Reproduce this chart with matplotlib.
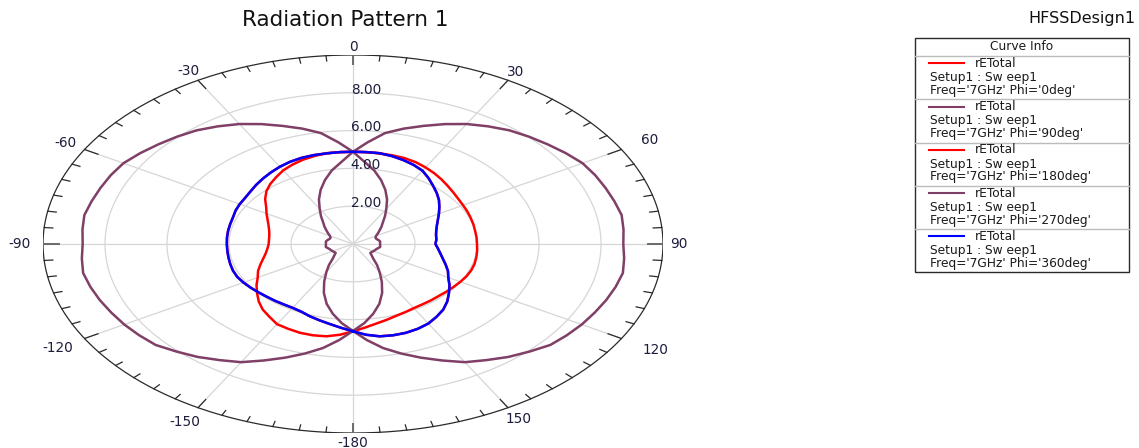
import numpy as np
import matplotlib
matplotlib.use("Agg")
import matplotlib.pyplot as plt
from matplotlib.patches import Rectangle

# ---- data -------------------------------------------------------------
theta_deg = np.arange(-180, 181, 5)

# rETotal, Freq = 7 GHz, theta sweep -180..180 deg
phi0 = [4.62, 4.45, 4.30, 4.18, 4.07, 3.95, 3.90, 3.90, 3.92, 3.94, 3.98, 4.03, 4.08,
        4.12, 4.12, 4.10, 4.08, 4.07, 4.07, 4.08, 4.09, 4.10, 4.12, 4.18, 4.22, 4.25,
        4.32, 4.42, 4.52, 4.62, 4.72, 4.80, 4.85, 4.87, 4.87, 4.88, 4.88, 4.88, 4.88,
        4.82, 4.73, 4.62, 4.48, 4.25, 4.02, 3.82, 3.62, 3.40, 3.20, 3.02, 2.88, 2.78,
        2.72, 2.70, 2.66, 2.75, 2.86, 3.00, 3.18, 3.38, 3.55, 3.80, 4.04, 4.30, 4.53,
        4.70, 4.86, 4.95, 5.00, 5.00, 4.96, 4.82, 4.62]

phi90 = [4.60, 4.20, 3.75, 3.28, 2.75, 2.20, 1.72, 1.35, 1.02, 0.85, 0.73, 0.74, 0.76,
         0.78, 0.80, 0.84, 0.89, 0.88, 0.87, 0.88, 0.88, 0.84, 0.80, 0.80, 0.86, 0.98,
         1.12, 1.30, 1.50, 1.80, 2.15, 2.60, 3.05, 3.50, 3.95, 4.35, 4.88, 5.40, 5.96,
         6.32, 6.65, 7.00, 7.33, 7.60, 7.85, 8.03, 8.20, 8.38, 8.55, 8.62, 8.67, 8.73,
         8.80, 8.76, 8.72, 8.78, 8.84, 8.77, 8.69, 8.60, 8.52, 8.42, 8.31, 8.05, 7.80,
         7.50, 7.22, 6.80, 6.40, 6.00, 5.59, 5.10, 4.60]

phi180 = [4.62, 4.82, 4.96, 5.00, 5.00, 4.95, 4.90, 4.70, 4.53, 4.30, 4.04, 3.80, 3.55,
          3.38, 3.18, 3.00, 2.86, 2.77, 2.72, 2.72, 2.74, 2.80, 2.90, 3.04, 3.22, 3.42,
          3.70, 3.95, 4.15, 4.32, 4.50, 4.63, 4.74, 4.82, 4.88, 4.88, 4.88, 4.88, 4.87,
          4.86, 4.84, 4.78, 4.68, 4.57, 4.45, 4.33, 4.23, 4.15, 4.10, 4.07, 4.04, 4.02,
          4.00, 4.00, 4.00, 4.02, 4.04, 4.06, 4.06, 4.04, 4.00, 3.96, 3.93, 3.90, 3.90,
          3.90, 3.92, 3.98, 4.05, 4.16, 4.28, 4.44, 4.62]

phi270 = [4.60, 5.10, 5.59, 6.00, 6.40, 6.80, 7.22, 7.50, 7.80, 8.05, 8.31, 8.42, 8.52,
          8.60, 8.69, 8.77, 8.84, 8.78, 8.72, 8.76, 8.80, 8.73, 8.67, 8.62, 8.55, 8.38,
          8.20, 8.03, 7.85, 7.60, 7.33, 7.00, 6.65, 6.32, 5.96, 5.40, 4.88, 4.35, 3.95,
          3.50, 3.05, 2.60, 2.15, 1.80, 1.50, 1.30, 1.12, 0.98, 0.86, 0.80, 0.80, 0.84,
          0.88, 0.88, 0.87, 0.88, 0.89, 0.84, 0.80, 0.78, 0.76, 0.74, 0.73, 0.85, 1.02,
          1.35, 1.72, 2.20, 2.75, 3.28, 3.75, 4.20, 4.60]

phi360 = [4.62, 4.45, 4.30, 4.18, 4.07, 3.95, 3.90, 3.90, 3.92, 3.94, 3.98, 4.03, 4.08,
          4.12, 4.12, 4.10, 4.08, 4.07, 4.07, 4.08, 4.09, 4.10, 4.12, 4.18, 4.22, 4.25,
          4.32, 4.42, 4.52, 4.62, 4.72, 4.80, 4.85, 4.87, 4.87, 4.88, 4.88, 4.88, 4.88,
          4.82, 4.73, 4.62, 4.48, 4.25, 4.02, 3.82, 3.62, 3.40, 3.20, 3.02, 2.88, 2.78,
          2.72, 2.70, 2.66, 2.75, 2.86, 3.00, 3.18, 3.38, 3.55, 3.80, 4.04, 4.30, 4.53,
          4.70, 4.86, 4.95, 5.00, 5.00, 4.96, 4.82, 4.62]

series = [("0deg", phi0, "#ff0000"),
          ("90deg", phi90, "#7f3f66"),
          ("180deg", phi180, "#ff0000"),
          ("270deg", phi270, "#7f3f66"),
          ("360deg", phi360, "#0000ff")]

ring_values = [2, 4, 6, 8]
ring_labels = ["2.00", "4.00", "6.00", "8.00"]
r_max = 10
angle_ticks = [0, 30, 60, 90, 120, 150, -180, -150, -120, -90, -60, -30]
angle_tick_labels = ["0", "30", "60", "90", "120", "150", "-180", "-150", "-120",
                     "-90", "-60", "-30"]

title = "Radiation Pattern 1"
design_name = "HFSSDesign1"
quantity = "rETotal"
setup_name = "Setup1 : Sw eep1"
freq_text = "7GHz"

# ---- figure -------------------------------------------------------------
W, H = 1139, 448
fig = plt.figure(figsize=(W / 100, H / 100), dpi=100)
fig.patch.set_facecolor("white")
FONT = "DejaVu Sans"
TXT = "#1c1c3c"

# polar plot drawn in a stretched cartesian frame (x = r sin t, y = r cos t)
ax = fig.add_axes([43 / W, 15 / H, 620 / W, 378 / H])
ax.set_xlim(-r_max, r_max)
ax.set_ylim(-r_max, r_max)
ax.axis("off")

t = np.linspace(0, 2 * np.pi, 721)
grid_c = "#d6d6d6"
for rv in ring_values:
    ax.plot(rv * np.sin(t), rv * np.cos(t), color=grid_c, lw=0.9, zorder=1)
for a in range(0, 360, 30):
    ar = np.deg2rad(a)
    ax.plot([0, r_max * np.sin(ar)], [0, r_max * np.cos(ar)], color=grid_c, lw=0.9, zorder=1)

# outer rim with tick marks every 5 degrees
ax.plot(r_max * np.sin(t), r_max * np.cos(t), color="#2a2a2a", lw=0.9, zorder=2)
for a in range(-180, 180, 5):
    ar = np.deg2rad(a)
    if a % 90 == 0:
        L, c, lw = 0.5, "#6a6a6a", 1.4
    elif a % 30 == 0:
        L, c, lw = 0.5, "#2a2a2a", 0.9
    else:
        L, c, lw = 0.28, "#2a2a2a", 0.9
    ax.plot([(r_max - L) * np.sin(ar), r_max * np.sin(ar)],
            [(r_max - L) * np.cos(ar), r_max * np.cos(ar)], color=c, lw=lw, zorder=2)

# angle labels
label_r = {0: 10.42, 30: 10.5, 60: 11.05, 90: 10.5, 120: 11.25, 150: 10.7,
           -180: 10.53, -150: 10.85, -120: 11.0, -90: 10.75, -60: 10.7, -30: 10.6}
for a, lab in zip(angle_ticks, angle_tick_labels):
    ar = np.deg2rad(a)
    rr = label_r[a]
    ax.text(rr * np.sin(ar), rr * np.cos(ar), lab, ha="center", va="center",
            fontsize=9.8, family=FONT, color=TXT, clip_on=False)

# radial labels
for rv, lab in zip(ring_values, ring_labels):
    ax.text(-0.07, rv + 0.17, lab, ha="left", va="center", fontsize=9.8,
            family=FONT, color=TXT, zorder=4)

# curves
th = np.deg2rad(theta_deg)
for name, vals, col in series:
    r = np.asarray(vals)
    ax.plot(r * np.sin(th), r * np.cos(th), color=col, lw=1.8, zorder=3,
            solid_joinstyle="round")

# ---- overlay for title and curve info box ---------------------------------
ov = fig.add_axes([0, 0, 1, 1])
ov.set_xlim(0, W)
ov.set_ylim(H, 0)
ov.axis("off")

ov.text(345, 20, title, ha="center", va="center", fontsize=15.5, family=FONT,
        color="#111111")
ov.text(1135, 18, design_name, ha="right", va="center", fontsize=11.5, family=FONT,
        color="#111111")

bx0, bx1, by0, by1 = 915, 1129, 38, 272
ov.add_patch(Rectangle((bx0, by0), bx1 - bx0, by1 - by0, facecolor="white",
                       edgecolor="#2a2a2a", lw=1.0, zorder=1))
ov.plot([bx0, bx1], [56, 56], color="#bcbcbc", lw=1.0, zorder=2)
ov.text((bx0 + bx1) / 2, 47, "Curve Info", ha="center", va="center", fontsize=8.8,
        family=FONT, color="#1a1a1a", zorder=3)

entry_h = 43.3
for i, (name, vals, col) in enumerate(series):
    top = 56 + i * entry_h
    if i > 0:
        ov.plot([bx0, bx1], [top, top], color="#bcbcbc", lw=1.0, zorder=2)
    ov.plot([929, 964], [top + 7.3, top + 7.3], color=col, lw=1.5, zorder=3)
    ov.text(975, top + 7.3, quantity, ha="left", va="center", fontsize=8.8,
            family=FONT, color="#1a1a1a", zorder=3)
    ov.text(930, top + 21.5, setup_name, ha="left", va="center", fontsize=8.8,
            family=FONT, color="#1a1a1a", zorder=3)
    ov.text(930, top + 34.2, f"Freq='{freq_text}' Phi='{name}'", ha="left",
            va="center", fontsize=8.8, family=FONT, color="#1a1a1a", zorder=3)

fig.savefig("out.png", dpi=100, facecolor="white")
